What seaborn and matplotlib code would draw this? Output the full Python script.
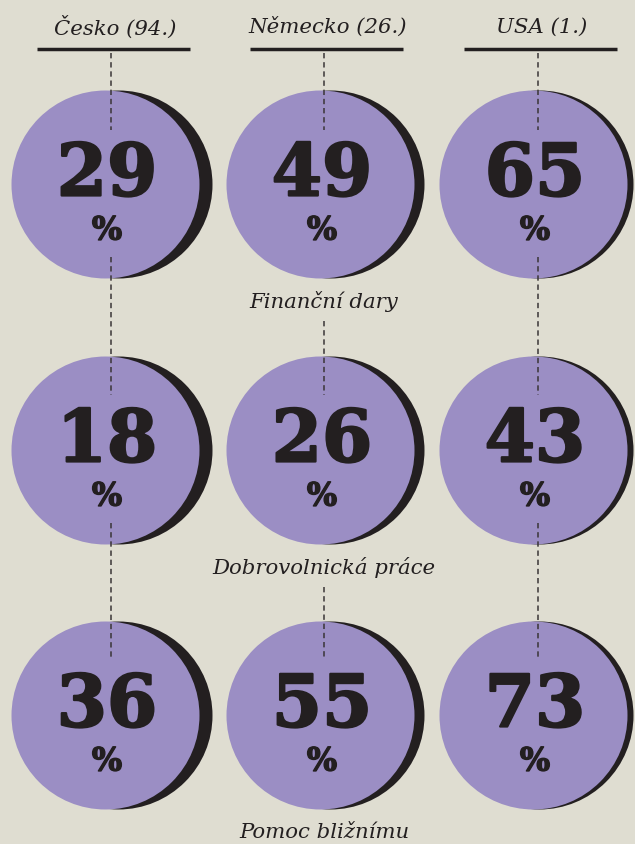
import pandas as pd
import seaborn as sns
import matplotlib.pyplot as plt
import matplotlib.patheffects as pe

# data
countries = ["Česko (94.)", "Německo (26.)", "USA (1.)"]
categories = ["Finanční dary", "Dobrovolnická práce", "Pomoc bližnímu"]
financni_dary = [29, 49, 65]
dobrovolnicka_prace = [18, 26, 43]
pomoc_bliznimu = [36, 55, 73]

BG = "#dfddd1"
PURPLE = "#9b8ec4"
DARK = "#231f20"

# layout in pixels (axes mapped 1:1 to the 635x845 canvas)
COL_X = [105, 320, 533]       # purple circle centres
SHADOW_DX = [13, 10, 6]       # offset of the dark circle behind
DASH_X = [111, 324, 538]
ROW_Y = [185, 451, 716]
R = 94


def build_frame():
    rows = []
    for ri, (cat, vals) in enumerate(zip(categories, [financni_dary, dobrovolnicka_prace, pomoc_bliznimu])):
        for ci, (country, v) in enumerate(zip(countries, vals)):
            rows.append({"category": cat, "country": country, "value": v,
                         "x": COL_X[ci], "y": ROW_Y[ri],
                         "xs": COL_X[ci] + SHADOW_DX[ci]})
    return pd.DataFrame(rows)


def main():
    sns.set_theme(style="white", rc={"figure.facecolor": BG, "axes.facecolor": BG})
    df = build_frame()

    fig = plt.figure(figsize=(6.35, 8.45), dpi=100)
    ax = fig.add_axes([0, 0, 1, 1])
    ax.set_xlim(0, 635)
    ax.set_ylim(845, 0)
    ax.axis("off")

    # marker size: diameter in points squared
    s = (2 * R * 72 / 100) ** 2
    sns.scatterplot(data=df, x="xs", y="y", s=s, color=DARK, linewidth=0, ax=ax, zorder=1, legend=False)
    sns.scatterplot(data=df, x="x", y="y", s=s, color=PURPLE, linewidth=0, ax=ax, zorder=2, legend=False)

    serif_it = dict(family="DejaVu Serif", style="italic", color=DARK, fontsize=15.3)
    dash_kw = dict(color="#3a3536", lw=1.1, ls=(0, (3.5, 2.5)), zorder=3)
    heavy = [pe.withStroke(linewidth=1.6, foreground=DARK)]

    # column headers
    for ci, country in enumerate(countries):
        ax.text(DASH_X[ci] + 4, 27, country, ha="center", va="center", **serif_it)
        ax.plot([DASH_X[ci] - 74, DASH_X[ci] + 79], [50, 50], color=DARK, lw=2.5,
                solid_capstyle="butt")
        ax.plot([DASH_X[ci], DASH_X[ci]], [54, ROW_Y[0] - 54], **dash_kw)

    # values
    for _, r in df.iterrows():
        ax.text(r["x"] + 2, r["y"] - 9, str(r["value"]), ha="center", va="center",
                family="DejaVu Serif", fontweight="bold", fontsize=52, color=DARK,
                zorder=4, path_effects=heavy)
        ax.text(r["x"] + 2, r["y"] + 47, "%", ha="center", va="center",
                family="DejaVu Serif", fontweight="bold", fontsize=23, color=DARK,
                zorder=4, path_effects=[pe.withStroke(linewidth=1.0, foreground=DARK)])

    # category labels and connectors
    for ri, cat in enumerate(categories):
        ly = ROW_Y[ri] + 117
        ax.text(DASH_X[1], ly, cat, ha="center", va="center", **serif_it)
        if ri < len(categories) - 1:
            nxt = ROW_Y[ri + 1] - 55
            for ci in (0, 2):
                ax.plot([DASH_X[ci], DASH_X[ci]], [ROW_Y[ri] + 73, nxt], **dash_kw)
            ax.plot([DASH_X[1], DASH_X[1]], [ly + 20, nxt], **dash_kw)

    fig.savefig("out.png", dpi=100, facecolor=BG)
    plt.close(fig)


if __name__ == "__main__":
    main()
